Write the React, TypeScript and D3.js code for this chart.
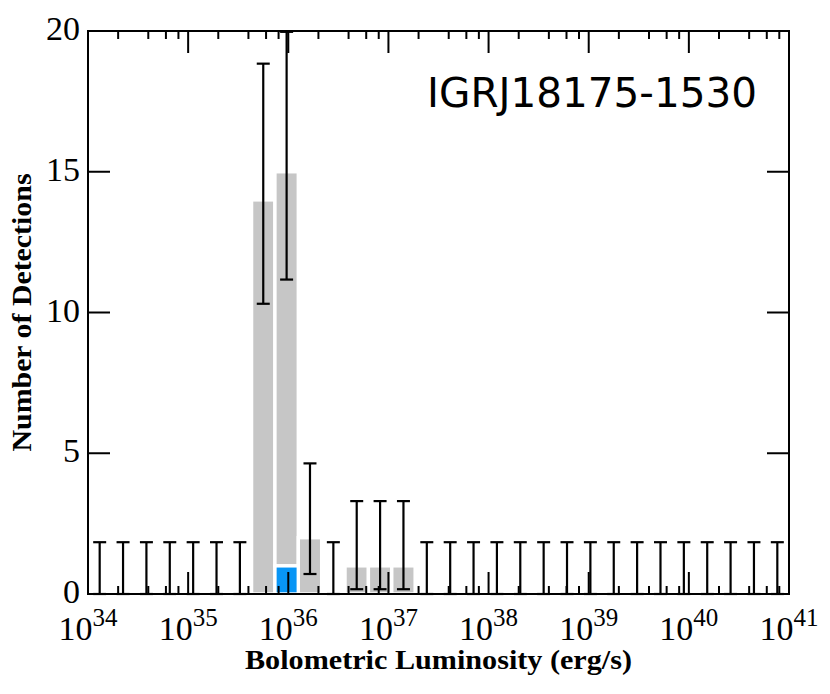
import React from "react";
import * as d3 from "d3";

// ---- data ----
const logMin = 34;
const logMax = 41;
const nBins = 30;
const counts = [0,0,0,0,0,0,0,14,15,2,0,1,1,1,0,0,0,0,0,0,0,0,0,0,0,0,0,0,0,0];
const blueCounts = [0,0,0,0,0,0,0,0,1,0,0,0,0,0,0,0,0,0,0,0,0,0,0,0,0,0,0,0,0,0];
const errLow = [0,0,0,0,0,0,0,10.31,11.17,0.71,0,0.17,0.17,0.17,0,0,0,0,0,0,0,0,0,0,0,0,0,0,0,0];
const errHigh = [1.84,1.84,1.84,1.84,1.84,1.84,1.84,18.84,19.97,4.64,1.84,3.3,3.3,3.3,1.84,1.84,1.84,1.84,1.84,1.84,1.84,1.84,1.84,1.84,1.84,1.84,1.84,1.84,1.84,1.84];
const xMajorExponents = [34, 35, 36, 37, 38, 39, 40, 41];
const xMinorMultipliers = [2, 4, 6, 8];
const yTicks = [0, 5, 10, 15, 20];
const title = "IGRJ18175-1530";
const xLabel = "Bolometric Luminosity (erg/s)";
const yLabel = "Number of Detections";

const W = 830, H = 694;
const L = 88, R = 789, T = 31, B = 594;
const serif = "'Liberation Serif', 'Times New Roman', serif";

export default function App() {
  const x = d3.scaleLog().domain([Math.pow(10, logMin), Math.pow(10, logMax)]).range([L, R]);
  const y = d3.scaleLinear().domain([0, 20]).range([B, T]);
  const edge = (i: number) => Math.pow(10, logMin + (i * (logMax - logMin)) / nBins);
  const center = (i: number) => Math.pow(10, logMin + ((i + 0.5) * (logMax - logMin)) / nBins);

  const majorLen = 22, minorLen = 8;
  const minorVals: number[] = [];
  xMajorExponents.slice(0, -1).forEach((e) =>
    xMinorMultipliers.forEach((m) => minorVals.push(m * Math.pow(10, e)))
  );

  return (
    <svg width={W} height={H} style={{ position: "absolute", left: 0, top: 0 }} xmlns="http://www.w3.org/2000/svg">
      <rect x={0} y={0} width={W} height={H} fill="#fff" />
      {/* bars */}
      {counts.map((c, i) => {
        if (c <= 0) return null;
        const base = blueCounts[i];
        return (
          <rect key={"g" + i} x={x(edge(i))} width={x(edge(i + 1)) - x(edge(i))}
            y={y(c)} height={y(base) - y(c)} fill="#c6c6c6" stroke="#fff" strokeWidth={3.4} />
        );
      })}
      {blueCounts.map((c, i) => c > 0 ? (
        <rect key={"b" + i} x={x(edge(i))} width={x(edge(i + 1)) - x(edge(i))}
          y={y(c)} height={y(0) - y(c)} fill="#0895f5" stroke="#fff" strokeWidth={3.4} />
      ) : null)}
      {/* error bars */}
      {counts.map((c, i) => {
        const cx = x(center(i));
        return (
          <g key={"e" + i} stroke="#000" strokeWidth={2.2}>
            <line x1={cx} x2={cx} y1={y(errLow[i])} y2={y(errHigh[i])} />
            <line x1={cx - 6.5} x2={cx + 6.5} y1={y(errLow[i])} y2={y(errLow[i])} />
            <line x1={cx - 6.5} x2={cx + 6.5} y1={y(errHigh[i])} y2={y(errHigh[i])} />
          </g>
        );
      })}
      {/* ticks */}
      <g stroke="#000" strokeWidth={2}>
        {xMajorExponents.map((e) => {
          const px = x(Math.pow(10, e));
          return (
            <g key={"xm" + e}>
              <line x1={px} x2={px} y1={B} y2={B - majorLen} />
              <line x1={px} x2={px} y1={T} y2={T + majorLen} />
            </g>
          );
        })}
        {minorVals.map((v, k) => {
          const px = x(v);
          return (
            <g key={"xn" + k}>
              <line x1={px} x2={px} y1={B} y2={B - minorLen} />
              <line x1={px} x2={px} y1={T} y2={T + minorLen} />
            </g>
          );
        })}
        {yTicks.map((t) => (
          <g key={"y" + t}>
            <line x1={L} x2={L + majorLen} y1={y(t)} y2={y(t)} />
            <line x1={R} x2={R - majorLen} y1={y(t)} y2={y(t)} />
          </g>
        ))}
      </g>
      {/* frame */}
      <rect x={L} y={T} width={R - L} height={B - T} fill="none" stroke="#000" strokeWidth={2} />
      {/* tick labels */}
      {xMajorExponents.map((e) => (
        <text key={"xl" + e} x={x(Math.pow(10, e))} y={640} textAnchor="middle" fontFamily={serif} fontSize={34}>
          <tspan>10</tspan>
          <tspan dy={-14} fontSize={25}>{e}</tspan>
        </text>
      ))}
      {yTicks.map((t) => (
        <text key={"yl" + t} x={80} y={y(t) + 9} textAnchor="end" fontFamily={serif} fontSize={34}>{t}</text>
      ))}
      {/* axis labels */}
      <text x={(L + R) / 2} y={669} textAnchor="middle" fontFamily={serif} fontWeight="bold" fontSize={27}
        textLength={387} lengthAdjust="spacingAndGlyphs">{xLabel}</text>
      <text transform={`translate(31, ${(T + B) / 2}) rotate(-90)`} textAnchor="middle" fontFamily={serif} fontWeight="bold" fontSize={27}
        textLength={278} lengthAdjust="spacingAndGlyphs">{yLabel}</text>
      {/* title */}
      <text x={757} y={107} textAnchor="end" fontFamily="'DejaVu Sans', sans-serif" fontSize={40.5}>{title}</text>
    </svg>
  );
}
